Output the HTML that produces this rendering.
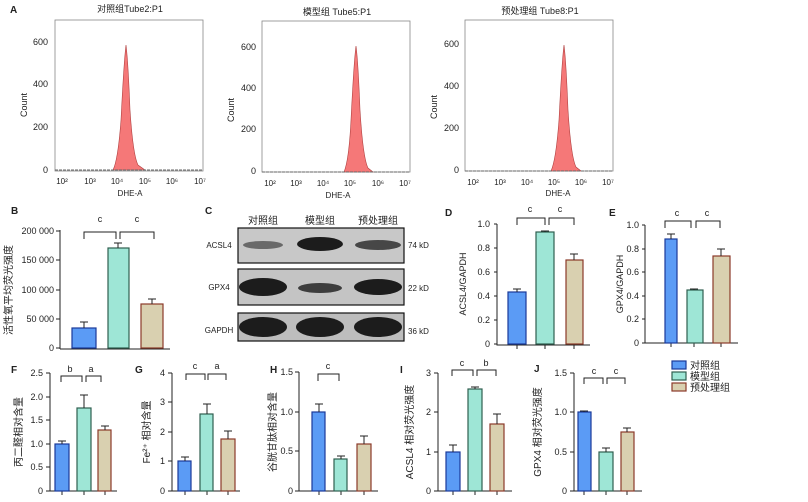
<!DOCTYPE html><html><head><meta charset="utf-8"><style>body{margin:0;background:#fff}svg{display:block}text{font-family:"Liberation Sans","Noto Sans CJK SC",sans-serif;fill:#222}</style></head><body>
<svg width="808" height="502" viewBox="0 0 808 502" xmlns="http://www.w3.org/2000/svg">
<g font-size="9">
<!-- Panel A -->
<text x="10" y="13" font-weight="bold" font-size="10">A</text>
<g>
<rect x="55" y="20" width="148" height="151" fill="none" stroke="#888" stroke-width="0.8"/>
<text x="130" y="12" text-anchor="middle" font-size="9">对照组Tube2:P1</text>
<g text-anchor="end"><text x="48" y="45">600</text><text x="48" y="87">400</text><text x="48" y="130">200</text><text x="48" y="173">0</text></g>
<text transform="translate(27,105) rotate(-90)" text-anchor="middle">Count</text>
<path d="M113,170 Q118,160 121,120 Q124,60 126,45 Q128,60 130,110 Q133,155 138,165 L145,170 Z" fill="#f57878" stroke="#b04040" stroke-width="0.6"/>
<line x1="55" y1="170" x2="203" y2="170" stroke="#666" stroke-dasharray="3,1"/>
<g text-anchor="middle" font-size="8"><text x="62" y="184">10²</text><text x="90" y="184">10³</text><text x="117" y="184">10⁴</text><text x="145" y="184">10⁵</text><text x="172" y="184">10⁶</text><text x="200" y="184">10⁷</text></g>
<text x="130" y="196" text-anchor="middle" font-size="8">DHE-A</text>
</g>
<g>
<rect x="262" y="21" width="148" height="151" fill="none" stroke="#888" stroke-width="0.8"/>
<text x="337" y="15" text-anchor="middle">模型组 Tube5:P1</text>
<g text-anchor="end"><text x="256" y="50">600</text><text x="256" y="91">400</text><text x="256" y="132">200</text><text x="256" y="174">0</text></g>
<text transform="translate(234,110) rotate(-90)" text-anchor="middle">Count</text>
<path d="M344,172 Q349,160 351,120 Q354,60 356,46 Q358,60 360,110 Q363,158 368,168 L373,172 Z" fill="#f57878" stroke="#b04040" stroke-width="0.6"/>
<line x1="262" y1="172" x2="410" y2="172" stroke="#666" stroke-dasharray="3,1"/>
<g text-anchor="middle" font-size="8"><text x="270" y="186">10²</text><text x="296" y="186">10³</text><text x="323" y="186">10⁴</text><text x="350" y="186">10⁵</text><text x="378" y="186">10⁶</text><text x="405" y="186">10⁷</text></g>
<text x="338" y="198" text-anchor="middle" font-size="8">DHE-A</text>
</g>
<g>
<rect x="465" y="20" width="148" height="151" fill="none" stroke="#888" stroke-width="0.8"/>
<text x="540" y="14" text-anchor="middle">预处理组 Tube8:P1</text>
<g text-anchor="end"><text x="459" y="47">600</text><text x="459" y="89">400</text><text x="459" y="131">200</text><text x="459" y="173">0</text></g>
<text transform="translate(437,107) rotate(-90)" text-anchor="middle">Count</text>
<path d="M551,171 Q556,160 559,120 Q562,60 564,45 Q566,60 568,110 Q571,157 576,167 L581,171 Z" fill="#f57878" stroke="#b04040" stroke-width="0.6"/>
<line x1="465" y1="171" x2="613" y2="171" stroke="#666" stroke-dasharray="3,1"/>
<g text-anchor="middle" font-size="8"><text x="473" y="185">10²</text><text x="500" y="185">10³</text><text x="527" y="185">10⁴</text><text x="554" y="185">10⁵</text><text x="581" y="185">10⁶</text><text x="608" y="185">10⁷</text></g>
<text x="558" y="196" text-anchor="middle" font-size="8">DHE-A</text>
</g>

<!-- Panel B -->
<text x="11" y="214" font-weight="bold" font-size="10">B</text>
<g stroke="#222" stroke-width="1" fill="none">
<line x1="60" y1="230" x2="60" y2="349"/><line x1="60" y1="349" x2="170" y2="349"/>
<line x1="56" y1="231" x2="60" y2="231"/><line x1="56" y1="260" x2="60" y2="260"/><line x1="56" y1="290" x2="60" y2="290"/><line x1="56" y1="319" x2="60" y2="319"/><line x1="56" y1="348" x2="60" y2="348"/>
</g>
<g text-anchor="end"><text x="54" y="234">200 000</text><text x="54" y="263">150 000</text><text x="54" y="293">100 000</text><text x="54" y="322">50 000</text><text x="54" y="351">0</text></g>
<text transform="translate(12,290) rotate(-90)" text-anchor="middle" font-size="10">活性氧平均荧光强度</text>
<g stroke-width="1.2">
<rect x="72" y="328" width="24" height="20" fill="#5b9bf5" stroke="#1a3a9a"/>
<rect x="108" y="248" width="21" height="100" fill="#9ee6d6" stroke="#2f5f4f"/>
<rect x="141" y="304" width="22" height="44" fill="#d9d0b0" stroke="#8b3a2a"/>
</g>
<g stroke="#222" stroke-width="1" fill="none">
<path d="M84,328V322M80,322H88M118,248V243M114,243H122M152,304V299M148,299H156"/>
<path d="M84,239V232H116V239M120,239V232H154V239"/>
</g>
<g text-anchor="middle"><text x="100" y="222">c</text><text x="137" y="222">c</text></g>

<!-- Panel C -->
<text x="205" y="214" font-weight="bold" font-size="10">C</text>
<g text-anchor="middle" font-size="10"><text x="263" y="224">对照组</text><text x="320" y="224">模型组</text><text x="378" y="224">预处理组</text></g>
<rect x="238" y="228" width="166" height="35" fill="#c8c8c8" stroke="#111" stroke-width="1.2"/>
<rect x="238" y="269" width="166" height="36" fill="#c4c4c4" stroke="#111" stroke-width="1.2"/>
<rect x="238" y="313" width="166" height="28" fill="#bdbdbd" stroke="#111" stroke-width="1.2"/>
<g fill="#1c1c1c">
<ellipse cx="263" cy="245" rx="20" ry="4" opacity="0.55"/>
<ellipse cx="320" cy="244" rx="23" ry="7"/>
<ellipse cx="378" cy="245" rx="23" ry="5" opacity="0.75"/>
<ellipse cx="263" cy="287" rx="24" ry="9"/>
<ellipse cx="320" cy="288" rx="22" ry="5" opacity="0.8"/>
<ellipse cx="378" cy="287" rx="24" ry="8"/>
<ellipse cx="263" cy="327" rx="24" ry="10"/>
<ellipse cx="320" cy="327" rx="24" ry="10"/>
<ellipse cx="378" cy="327" rx="24" ry="10"/>
</g>
<g text-anchor="middle" font-size="8"><text x="219" y="248">ACSL4</text><text x="219" y="290">GPX4</text><text x="219" y="333">GAPDH</text></g>
<g font-size="8"><text x="408" y="248">74 kD</text><text x="408" y="291">22 kD</text><text x="408" y="334">36 kD</text></g>

<!-- Panel D -->
<text x="445" y="216" font-weight="bold" font-size="10">D</text>
<g stroke="#222" fill="none"><path d="M497,224V345H510M497,224H494M497,248H494M497,272H494M497,296H494M497,320H494M497,344H494M517,345V349M545,345V349M574,345V349"/><line x1="497" y1="345" x2="590" y2="345"/></g>
<g text-anchor="end"><text x="490" y="227">1.0</text><text x="490" y="251">0.8</text><text x="490" y="275">0.6</text><text x="490" y="299">0.4</text><text x="490" y="323">0.2</text><text x="490" y="347">0</text></g>
<text transform="translate(466,284) rotate(-90)" text-anchor="middle" font-size="9">ACSL4/GAPDH</text>
<g stroke-width="1.2">
<rect x="508" y="292" width="18" height="52" fill="#5b9bf5" stroke="#1a3a9a"/>
<rect x="536" y="232" width="18" height="112" fill="#9ee6d6" stroke="#2f5f4f"/>
<rect x="566" y="260" width="17" height="84" fill="#d9d0b0" stroke="#8b3a2a"/>
</g>
<g stroke="#222" fill="none"><path d="M517,292V289M513,289H521M545,232V231M541,231H549M574,260V254M570,254H578"/><path d="M517,225V218H545V225M549,225V218H574V225"/></g>
<g text-anchor="middle"><text x="530" y="212">c</text><text x="560" y="212">c</text></g>

<!-- Panel E -->
<text x="609" y="216" font-weight="bold" font-size="10">E</text>
<g stroke="#222" fill="none"><path d="M645,225V343M645,225H642M645,249H642M645,272H642M645,296H642M645,319H642M645,343H642M671,343V347M694,343V347M721,343V347"/><line x1="645" y1="343" x2="738" y2="343"/></g>
<g text-anchor="end"><text x="639" y="228">1.0</text><text x="639" y="252">0.8</text><text x="639" y="275">0.6</text><text x="639" y="299">0.4</text><text x="639" y="322">0.2</text><text x="639" y="346">0</text></g>
<text transform="translate(623,284) rotate(-90)" text-anchor="middle" font-size="9">GPX4/GAPDH</text>
<g stroke-width="1.2">
<rect x="665" y="239" width="12" height="104" fill="#5b9bf5" stroke="#1a3a9a"/>
<rect x="687" y="290" width="16" height="53" fill="#9ee6d6" stroke="#2f5f4f"/>
<rect x="713" y="256" width="17" height="87" fill="#d9d0b0" stroke="#8b3a2a"/>
</g>
<g stroke="#222" fill="none"><path d="M671,239V234M667,234H675M694,290V289M690,289H698M721,256V249M717,249H725"/><path d="M665,228V221H691V228M696,228V221H720V228"/></g>
<g text-anchor="middle"><text x="677" y="216">c</text><text x="707" y="216">c</text></g>

<!-- Panel F -->
<text x="11" y="373" font-weight="bold" font-size="10">F</text>
<g stroke="#222" fill="none"><path d="M50,373V491H117M46,373H50M46,397H50M46,420H50M46,444H50M46,467H50M46,491H50M62,491V495M84,491V495M105,491V495"/></g>
<g text-anchor="end"><text x="43" y="376">2.5</text><text x="43" y="400">2.0</text><text x="43" y="423">1.5</text><text x="43" y="447">1.0</text><text x="43" y="470">0.5</text><text x="43" y="494">0</text></g>
<text transform="translate(22,432) rotate(-90)" text-anchor="middle" font-size="10">丙二醛相对含量</text>
<g stroke-width="1.2">
<rect x="55" y="444" width="14" height="47" fill="#5b9bf5" stroke="#1a3a9a"/>
<rect x="77" y="408" width="14" height="83" fill="#9ee6d6" stroke="#2f5f4f"/>
<rect x="98" y="430" width="13" height="61" fill="#d9d0b0" stroke="#8b3a2a"/>
</g>
<g stroke="#222" fill="none"><path d="M62,444V441M58,441H66M84,408V395M80,395H88M105,430V426M101,426H109"/><path d="M61,382V376H82V382M86,382V376H101V382"/></g>
<g text-anchor="middle"><text x="70" y="372">b</text><text x="91" y="372">a</text></g>

<!-- Panel G -->
<text x="135" y="373" font-weight="bold" font-size="10">G</text>
<g stroke="#222" fill="none"><path d="M172,373V491H240M168,373H172M168,402H172M168,432H172M168,461H172M168,491H172M185,491V495M207,491V495M228,491V495"/></g>
<g text-anchor="end"><text x="165" y="376">4</text><text x="165" y="405">3</text><text x="165" y="435">2</text><text x="165" y="464">1</text><text x="165" y="494">0</text></g>
<text transform="translate(150,432) rotate(-90)" text-anchor="middle" font-size="10">Fe²⁺ 相对含量</text>
<g stroke-width="1.2">
<rect x="178" y="461" width="13" height="30" fill="#5b9bf5" stroke="#1a3a9a"/>
<rect x="200" y="414" width="13" height="77" fill="#9ee6d6" stroke="#2f5f4f"/>
<rect x="221" y="439" width="14" height="52" fill="#d9d0b0" stroke="#8b3a2a"/>
</g>
<g stroke="#222" fill="none"><path d="M185,461V457M181,457H189M207,414V404M203,404H211M228,439V431M224,431H232"/><path d="M186,380V374H205V380M208,380V374H226V380"/></g>
<g text-anchor="middle"><text x="195" y="369">c</text><text x="217" y="369">a</text></g>

<!-- Panel H -->
<text x="270" y="373" font-weight="bold" font-size="10">H</text>
<g stroke="#222" fill="none"><path d="M299,372V491H378M295,372H299M295,412H299M295,451H299M295,491H299M319,491V495M341,491V495M364,491V495"/></g>
<g text-anchor="end"><text x="293" y="375">1.5</text><text x="293" y="415">1.0</text><text x="293" y="454">0.5</text><text x="293" y="494">0</text></g>
<text transform="translate(276,432) rotate(-90)" text-anchor="middle" font-size="10">谷胱甘肽相对含量</text>
<g stroke-width="1.2">
<rect x="312" y="412" width="13" height="79" fill="#5b9bf5" stroke="#1a3a9a"/>
<rect x="334" y="459" width="13" height="32" fill="#9ee6d6" stroke="#2f5f4f"/>
<rect x="357" y="444" width="14" height="47" fill="#d9d0b0" stroke="#8b3a2a"/>
</g>
<g stroke="#222" fill="none"><path d="M319,412V404M315,404H323M341,459V456M337,456H345M364,444V436M360,436H368"/><path d="M318,381V374H339V381"/></g>
<text x="328" y="369" text-anchor="middle">c</text>

<!-- Panel I -->
<text x="400" y="373" font-weight="bold" font-size="10">I</text>
<g stroke="#222" fill="none"><path d="M438,373V491H512M434,373H438M434,412H438M434,452H438M434,491H438M453,491V495M475,491V495M497,491V495"/></g>
<g text-anchor="end"><text x="431" y="376">3</text><text x="431" y="415">2</text><text x="431" y="455">1</text><text x="431" y="494">0</text></g>
<text transform="translate(413,432) rotate(-90)" text-anchor="middle" font-size="10">ACSL4 相对荧光强度</text>
<g stroke-width="1.2">
<rect x="446" y="452" width="14" height="39" fill="#5b9bf5" stroke="#1a3a9a"/>
<rect x="468" y="389" width="14" height="102" fill="#9ee6d6" stroke="#2f5f4f"/>
<rect x="490" y="424" width="14" height="67" fill="#d9d0b0" stroke="#8b3a2a"/>
</g>
<g stroke="#222" fill="none"><path d="M453,452V445M449,445H457M475,389V387M471,387H479M497,424V414M493,414H501"/><path d="M452,376V370H473V376M477,376V370H496V376"/></g>
<g text-anchor="middle"><text x="462" y="366">c</text><text x="486" y="366">b</text></g>

<!-- Panel J -->
<text x="534" y="372" font-weight="bold" font-size="10">J</text>
<g stroke="#222" fill="none"><path d="M574,373V491H642M570,373H574M570,412H574M570,452H574M570,491H574M584,491V495M606,491V495M627,491V495"/></g>
<g text-anchor="end"><text x="567" y="376">1.5</text><text x="567" y="415">1.0</text><text x="567" y="455">0.5</text><text x="567" y="494">0</text></g>
<text transform="translate(541,432) rotate(-90)" text-anchor="middle" font-size="10">GPX4 相对荧光强度</text>
<g stroke-width="1.2">
<rect x="578" y="412" width="13" height="79" fill="#5b9bf5" stroke="#1a3a9a"/>
<rect x="599" y="452" width="14" height="39" fill="#9ee6d6" stroke="#2f5f4f"/>
<rect x="621" y="432" width="13" height="59" fill="#d9d0b0" stroke="#8b3a2a"/>
</g>
<g stroke="#222" fill="none"><path d="M584,412V411M580,411H588M606,452V448M602,448H610M627,432V428M623,428H631"/><path d="M584,384V378H603V384M607,384V378H625V384"/></g>
<g text-anchor="middle"><text x="594" y="374">c</text><text x="616" y="374">c</text></g>

<!-- Legend -->
<g stroke-width="1.2">
<rect x="672" y="361" width="14" height="8" fill="#5b9bf5" stroke="#1a3a9a"/>
<rect x="672" y="372" width="14" height="8" fill="#9ee6d6" stroke="#2f5f4f"/>
<rect x="672" y="383" width="14" height="8" fill="#d9d0b0" stroke="#8b3a2a"/>
</g>
<g font-size="10"><text x="690" y="369">对照组</text><text x="690" y="380">模型组</text><text x="690" y="391">预处理组</text></g>
</g>
</svg>
</body></html>
